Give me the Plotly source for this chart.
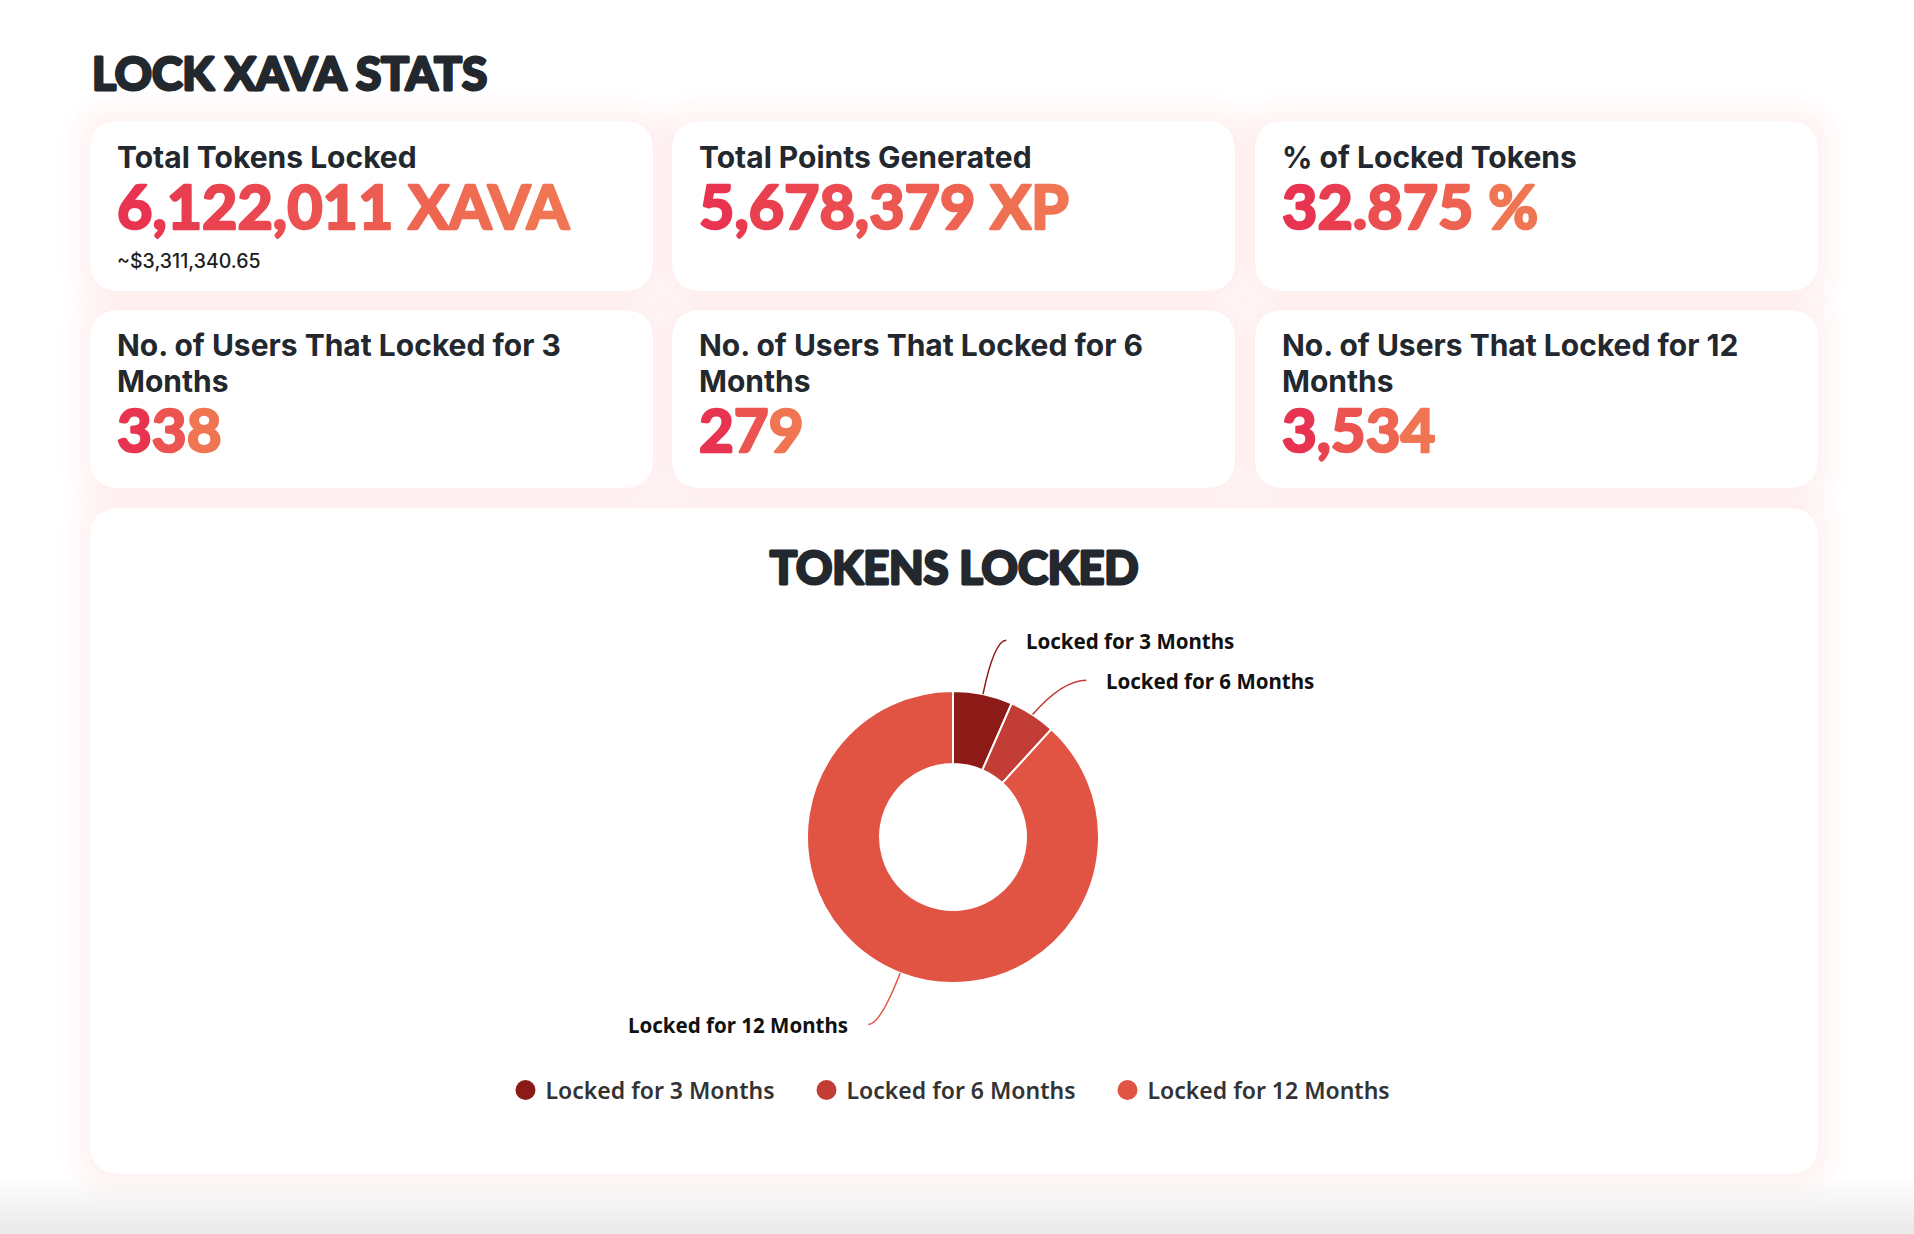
import plotly.graph_objects as go
import math

# ---------------- data ----------------
stat_labels = ["Total Tokens Locked", "Total Points Generated", "% of Locked Tokens"]
stat_values = ["6,122,011 XAVA", "5,678,379 XP", "32.875 %"]
stat_subs = ["~$3,311,340.65", "", ""]

user_labels_l1 = ["No. of Users That Locked for 3",
                  "No. of Users That Locked for 6",
                  "No. of Users That Locked for 12"]
user_labels_l2 = ["Months", "Months", "Months"]
user_values = ["338", "279", "3,534"]

lock_periods = ["Locked for 3 Months", "Locked for 6 Months", "Locked for 12 Months"]
tokens_locked = [403000, 318000, 5401011]
slice_colors = ["#8c1a17", "#c23d36", "#e15443"]

page_title = "LOCK XAVA STATS"
chart_title = "TOKENS LOCKED"

# ---------------- layout constants ----------------
W, H = 1914, 1234
DARK = "#23272e"
HEAVY = "Lato"

def heavy_span(ch, col, sw):
    return ("<span style='color:%s;stroke:%s;stroke-width:%.1fpx;stroke-linejoin:round'>%s</span>"
            % (col, col, sw, ch))

def grad_text(s, c0=(232, 52, 80), c1=(240, 117, 82), sw=2.6):
    n = max(len(s) - 1, 1)
    out = []
    for i, ch in enumerate(s):
        t = i / n
        c = tuple(round(c0[k] + (c1[k] - c0[k]) * t) for k in range(3))
        out.append(heavy_span(ch, "rgb(%d,%d,%d)" % c, sw))
    return "".join(out)

def rrect(x0, y0, x1, y1, r):
    return (f"M{x0+r},{y0} L{x1-r},{y0} Q{x1},{y0} {x1},{y0+r} L{x1},{y1-r} "
            f"Q{x1},{y1} {x1-r},{y1} L{x0+r},{y1} Q{x0},{y1} {x0},{y1-r} "
            f"L{x0},{y0+r} Q{x0},{y0} {x0+r},{y0} Z")

shapes = []
annotations = []

# bottom grey fade of the page
for k in range(10):
    shapes.append(dict(type="rect", xref="x", yref="y", x0=0, x1=W, y0=1180 + k * 5, y1=H,
                       fillcolor="rgba(0,0,0,0.0068)", line=dict(width=0), layer="below"))

col_x0 = [90, 672, 1255]
card_w = 563
rows = [(121, 291), (310, 488)]
chart_box = (90, 508, 1818, 1174)
boxes = []
for (y0, y1) in rows:
    for x0 in col_x0:
        boxes.append((x0, y0, x0 + card_w, y1))
boxes.append(chart_box)

# glow
for d in (30, 23, 16, 10, 5, 2):
    for (x0, y0, x1, y1) in boxes:
        shapes.append(dict(type="path", xref="x", yref="y",
                           path=rrect(x0 - d, y0 - d, x1 + d, y1 + d, 30 + d),
                           fillcolor="rgba(236,100,100,0.014)", line=dict(width=0), layer="below"))
for (x0, y0, x1, y1) in boxes:
    shapes.append(dict(type="path", xref="x", yref="y", path=rrect(x0, y0, x1, y1, 30),
                       fillcolor="#ffffff", line=dict(width=0), layer="below"))

# titles
annotations.append(dict(x=90, y=72, xref="x", yref="y", xanchor="left", yanchor="middle",
                        text=heavy_span(page_title, DARK, 3.0), showarrow=False,
                        font=dict(family=HEAVY, size=46, weight=700, color=DARK)))
annotations.append(dict(x=954, y=567, xref="x", yref="y", xanchor="center", yanchor="middle",
                        text=heavy_span(chart_title, DARK, 3.0), showarrow=False,
                        font=dict(family=HEAVY, size=45, weight=700, color=DARK)))

# stat cards
LBL = dict(family="Inter", size=30, weight=700, color=DARK)
VAL1 = dict(family=HEAVY, size=61, weight=700, color="#e8354f")
VAL2 = dict(family=HEAVY, size=60, weight=700, color="#e8354f")
for i in range(3):
    tx = col_x0[i] + 25
    annotations.append(dict(x=tx, y=157, xref="x", yref="y", xanchor="left", yanchor="middle",
                            text=stat_labels[i], showarrow=False, font=LBL))
    annotations.append(dict(x=tx, y=205.5, xref="x", yref="y", xanchor="left", yanchor="middle",
                            text=grad_text(stat_values[i]), showarrow=False, font=VAL1))
    if stat_subs[i]:
        annotations.append(dict(x=tx, y=261, xref="x", yref="y", xanchor="left", yanchor="middle",
                                text=stat_subs[i], showarrow=False,
                                font=dict(family="Inter", size=19.5, weight=500, color="#1e1e22")))
    annotations.append(dict(x=tx, y=345, xref="x", yref="y", xanchor="left", yanchor="middle",
                            text=user_labels_l1[i], showarrow=False, font=LBL))
    annotations.append(dict(x=tx, y=380.5, xref="x", yref="y", xanchor="left", yanchor="middle",
                            text=user_labels_l2[i], showarrow=False, font=LBL))
    annotations.append(dict(x=tx, y=429, xref="x", yref="y", xanchor="left", yanchor="middle",
                            text=grad_text(user_values[i]), showarrow=False, font=VAL2))

# donut geometry
cx, cy, R = 953, 837, 146
dom_x = [(cx - R) / W, (cx + R) / W]
dom_y = [(H - cy - R) / H, (H - cy + R) / H]

total = sum(tokens_locked)
cum = 0
leaders = []
for i, v in enumerate(tokens_locked):
    mid = (cum + v / 2) / total * 2 * math.pi
    cum += v
    sx, sy = math.sin(mid), -math.cos(mid)
    p0 = (cx + R * sx, cy + R * sy)
    p1 = (p0[0] + 55 * sx, p0[1] + 55 * sy)
    side = 1 if sx >= 0 else -1
    leaders.append([p0, p1, side])

# simple label de-overlap per side (push later labels down)
for side in (1, -1):
    items = sorted([l for l in leaders if l[2] == side], key=lambda l: l[1][1])
    last = None
    for l in items:
        y = l[1][1]
        if last is not None and y < last + 40:
            y = last + 40
        l.append(y)
        last = y

for i, (p0, p1, side, ly) in enumerate(leaders):
    push = abs(ly - p1[1])
    p2 = (p1[0] + (12 + push) * side, ly)
    shapes.append(dict(type="path", xref="x", yref="y",
                       path=f"M{p0[0]:.1f},{p0[1]:.1f} Q{p1[0]:.1f},{ly:.1f} {p2[0]:.1f},{p2[1]:.1f}",
                       line=dict(color=slice_colors[i], width=1.5)))
    annotations.append(dict(x=p2[0] + 18 * side, y=p2[1] + 1, xref="x", yref="y",
                            xanchor="left" if side > 0 else "right", yanchor="middle",
                            text=lock_periods[i], showarrow=False,
                            font=dict(family="Noto Sans", size=20.5, weight=700, color="#111111")))

fig = go.Figure()
fig.add_trace(go.Pie(labels=lock_periods, values=tokens_locked, hole=0.5, sort=False,
                     direction="clockwise", rotation=0, textinfo="none", showlegend=False,
                     marker=dict(colors=slice_colors, line=dict(color="#ffffff", width=2)),
                     domain=dict(x=dom_x, y=dom_y)))
for name, c in zip(lock_periods, slice_colors):
    fig.add_trace(go.Scatter(x=[None], y=[None], mode="markers", name=name,
                             marker=dict(symbol="circle", size=16, color=c,
                                         line=dict(color=c, width=4))))

fig.update_layout(
    width=W, height=H, margin=dict(l=0, r=0, t=0, b=0),
    paper_bgcolor="#ffffff", plot_bgcolor="rgba(0,0,0,0)",
    xaxis=dict(range=[0, W], visible=False, fixedrange=True),
    yaxis=dict(range=[H, 0], visible=False, fixedrange=True),
    shapes=shapes, annotations=annotations,
    legend=dict(orientation="h", x=0.5, xanchor="center", y=(H - 1090) / H, yanchor="middle",
                font=dict(family="Noto Sans", size=23, weight=600, color="#333333"),
                entrywidth=256, entrywidthmode="pixels", itemclick=False),
)

fig.write_html("out.html", config={"displayModeBar": False},
               post_script="document.body.style.margin='0';document.body.style.overflow='hidden';")
